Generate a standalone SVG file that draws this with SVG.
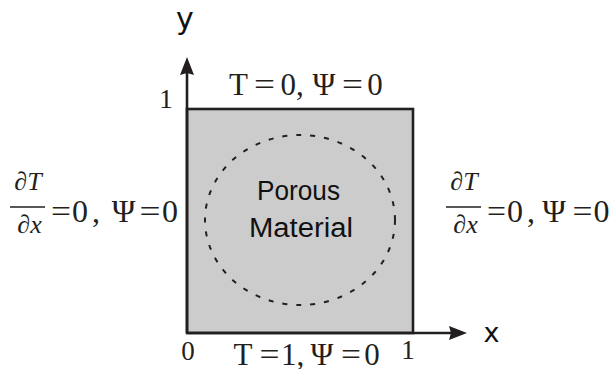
<svg xmlns="http://www.w3.org/2000/svg" width="611" height="369" viewBox="0 0 611 369">
<style>
.m{font-family:"Liberation Serif","Times New Roman",serif;fill:#231f20;text-anchor:middle}
.i{font-style:italic}
.e{text-anchor:start}
.ax{font-family:"DejaVu Sans",sans-serif;fill:#111;text-anchor:middle}
.ln{stroke:#231f20;stroke-width:2.6;fill:none}
</style>
<rect width="611" height="369" fill="#fff"/>
<g id="domain">
<rect x="187" y="109" width="226" height="224" fill="#cccccc" stroke="#231f20" stroke-width="2.6"/>
<ellipse cx="300" cy="220" rx="95" ry="85" fill="none" stroke="#231f20" stroke-width="2" stroke-dasharray="5 9"/>
<text font-family="Liberation Sans, Arial, sans-serif" font-size="27" fill="#111" text-anchor="middle"><tspan x="298.5" y="200" textLength="83" lengthAdjust="spacingAndGlyphs">Porous</tspan><tspan x="301" y="237" textLength="104" lengthAdjust="spacingAndGlyphs">Material</tspan></text>
</g>
<g id="connectors">
<line class="ln" x1="187" y1="333" x2="187" y2="70"/>
<polygon points="187,57 194,75 187,73 180,75" fill="#231f20"/>
<line class="ln" x1="187" y1="333" x2="455" y2="333"/>
<polygon points="467,333 449,340 451,333 449,326" fill="#231f20"/>
</g>
<g id="axis-labels">
<text class="ax" x="185" y="29" font-size="30">y</text>
<text class="ax" x="491.5" y="342" font-size="27">x</text>
<text class="m" x="188" y="360" font-size="27">0</text>
<text class="m" x="408" y="359" font-size="27">1</text>
<text class="m" x="166" y="108" font-size="27">1</text>
</g>
<g id="top-bc" class="m" font-size="31">
<text x="238.5" y="95">T</text><text class="e" x="254" y="95" textLength="21" lengthAdjust="spacingAndGlyphs">=</text><text class="e" x="280.5" y="95">0,</text>
<text x="324" y="95">Ψ</text><text class="e" x="342" y="95" textLength="21" lengthAdjust="spacingAndGlyphs">=</text><text x="375" y="95">0</text>
</g>
<g id="bottom-bc" class="m" font-size="31">
<text x="243" y="365">T</text><text class="e" x="259.5" y="365" textLength="20" lengthAdjust="spacingAndGlyphs">=</text><text class="e" x="281" y="365">1,</text>
<text x="322" y="365">Ψ</text><text class="e" x="341" y="365" textLength="20" lengthAdjust="spacingAndGlyphs">=</text><text x="372" y="365">0</text>
</g>
<g id="left-bc" class="m">
<text class="i" x="28" y="189.5" font-size="26">∂T</text>
<line x1="10" y1="207" x2="45" y2="207" stroke="#231f20" stroke-width="1.3"/>
<text class="i" x="29.5" y="233" font-size="26">∂x</text>
<g font-size="32"><text class="e" x="51" y="221.5" textLength="20" lengthAdjust="spacingAndGlyphs">=</text><text x="80" y="221.5">0</text><text class="e" x="92" y="221.5">,</text>
<text x="123.5" y="221.5">Ψ</text><text class="e" x="139.5" y="221.5" textLength="21" lengthAdjust="spacingAndGlyphs">=</text><text x="170" y="221.5">0</text></g>
</g>
<g id="right-bc" class="m">
<text class="i" x="464" y="189.5" font-size="26">∂T</text>
<line x1="446" y1="207" x2="481" y2="207" stroke="#231f20" stroke-width="1.3"/>
<text class="i" x="465.5" y="233" font-size="26">∂x</text>
<g font-size="32"><text class="e" x="487" y="221.5" textLength="19" lengthAdjust="spacingAndGlyphs">=</text><text x="515" y="221.5">0</text><text class="e" x="527" y="221.5">,</text>
<text x="554" y="221.5">Ψ</text><text class="e" x="572.5" y="221.5" textLength="20" lengthAdjust="spacingAndGlyphs">=</text><text x="601.5" y="221.5">0</text></g>
</g>
</svg>
